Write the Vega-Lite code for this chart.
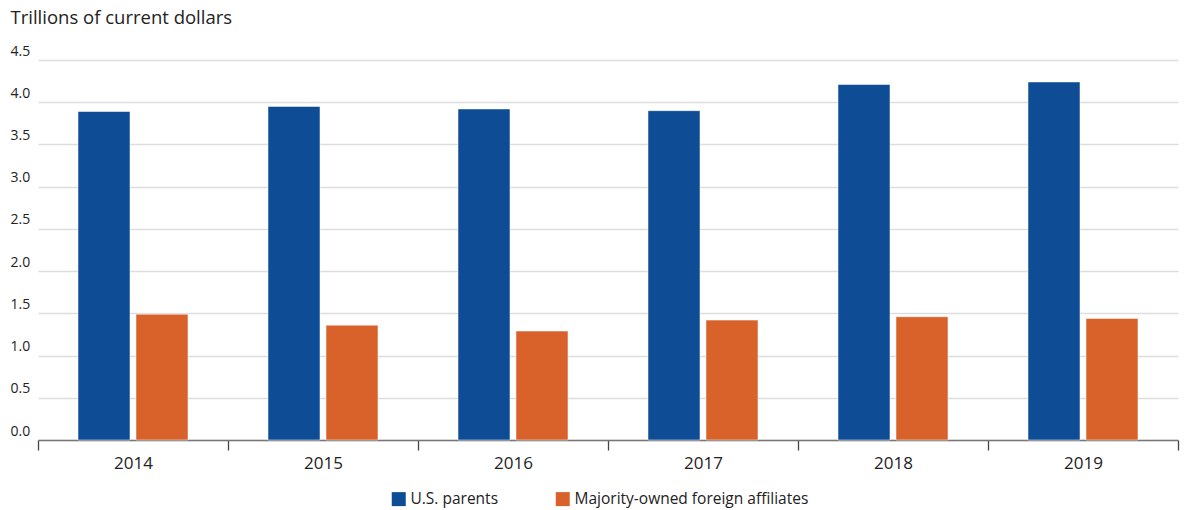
{
  "$schema": "https://vega.github.io/schema/vega-lite/v6.json",
  "autosize": "none",
  "width": 1183,
  "height": 380,
  "padding": {"left": 7, "top": 60, "right": 0, "bottom": 70},
  "background": "white",
  "config": {
    "view": {"stroke": null},
    "font": "Open Sans"
  },
  "data": {
    "values": [
      {"year": "2014", "series": "U.S. parents", "value": 3.89},
      {"year": "2014", "series": "Majority-owned foreign affiliates", "value": 1.49},
      {"year": "2015", "series": "U.S. parents", "value": 3.95},
      {"year": "2015", "series": "Majority-owned foreign affiliates", "value": 1.36},
      {"year": "2016", "series": "U.S. parents", "value": 3.92},
      {"year": "2016", "series": "Majority-owned foreign affiliates", "value": 1.29},
      {"year": "2017", "series": "U.S. parents", "value": 3.90},
      {"year": "2017", "series": "Majority-owned foreign affiliates", "value": 1.42},
      {"year": "2018", "series": "U.S. parents", "value": 4.21},
      {"year": "2018", "series": "Majority-owned foreign affiliates", "value": 1.46},
      {"year": "2019", "series": "U.S. parents", "value": 4.24},
      {"year": "2019", "series": "Majority-owned foreign affiliates", "value": 1.44}
    ]
  },
  "mark": {"type": "bar", "stroke": "#ffffff", "strokeWidth": 0.5},
  "encoding": {
    "x": {
      "field": "year",
      "type": "nominal",
      "scale": {"range": [31, 1171], "paddingInner": 0, "paddingOuter": 0},
      "axis": {
        "title": null,
        "labelAngle": 0,
        "tickBand": "extent",
        "domainColor": "#777777",
        "domainWidth": 1.5,
        "tickColor": "#444444",
        "tickWidth": 1.3,
        "tickSize": 10,
        "labelPadding": 5,
        "labelFontSize": 17,
        "labelColor": "#222222"
      }
    },
    "xOffset": {
      "field": "series",
      "type": "nominal",
      "sort": ["U.S. parents", "Majority-owned foreign affiliates"],
      "scale": {"paddingInner": 0.1034, "paddingOuter": 0.6897}
    },
    "y": {
      "field": "value",
      "type": "quantitative",
      "scale": {"domain": [0, 4.5], "nice": false},
      "axis": {
        "title": "Trillions of current dollars",
        "titleAngle": 0,
        "titleAlign": "left",
        "titleBaseline": "middle",
        "titleX": 3,
        "titleY": -43,
        "titleFontSize": 18.5,
        "titleFontWeight": "normal",
        "titleColor": "#222222",
        "values": [0, 0.5, 1, 1.5, 2, 2.5, 3, 3.5, 4, 4.5],
        "format": ".1f",
        "domain": false,
        "ticks": false,
        "tickSize": 0,
        "labelAlign": "left",
        "labelBaseline": "bottom",
        "labelPadding": -3,
        "labelOffset": -2,
        "labelFontSize": 14,
        "labelColor": "#222222",
        "grid": true,
        "gridColor": "#dddddd",
        "gridWidth": 1.5
      }
    },
    "color": {
      "field": "series",
      "type": "nominal",
      "sort": ["U.S. parents", "Majority-owned foreign affiliates"],
      "scale": {"domain": ["U.S. parents", "Majority-owned foreign affiliates"], "range": ["#0e4d96", "#d9622a"]},
      "legend": {
        "title": null,
        "orient": "none",
        "direction": "horizontal",
        "legendX": 384,
        "legendY": 431,
        "symbolType": "square",
        "symbolSize": 196,
        "symbolStrokeWidth": 0,
        "labelFontSize": 15.5,
        "labelColor": "#222222",
        "labelOffset": 4,
        "columnPadding": 56,
        "labelLimit": 400
      }
    }
  }
}
